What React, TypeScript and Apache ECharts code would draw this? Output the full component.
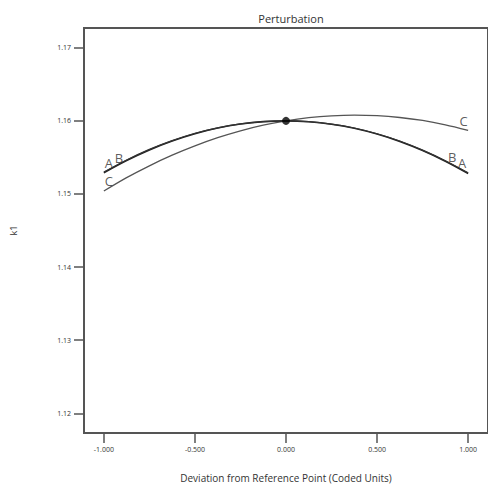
import React, { useEffect, useRef } from "react";
import * as echarts from "echarts";

const xValues = [
  -1, -0.875, -0.75, -0.625, -0.5, -0.375, -0.25, -0.125, 0,
  0.125, 0.25, 0.375, 0.5, 0.625, 0.75, 0.875, 1,
];
const seriesA = [
  1.1529, 1.15457, 1.15602, 1.15724, 1.15824, 1.15901, 1.15956, 1.15989, 1.16,
  1.15988, 1.15954, 1.15898, 1.15819, 1.15718, 1.15594, 1.15448, 1.1528,
];
const seriesB = [
  1.153, 1.15465, 1.1561, 1.1573, 1.1583, 1.15905, 1.15958, 1.1599, 1.16,
  1.1599, 1.15956, 1.15902, 1.15824, 1.15724, 1.156, 1.15455, 1.1529,
];
const seriesC = [
  1.1504, 1.15223, 1.15385, 1.1553, 1.15657, 1.15769, 1.15863, 1.1594, 1.16,
  1.16043, 1.16069, 1.16079, 1.16071, 1.16046, 1.16005, 1.15945, 1.1587,
];
const referencePoint = [0, 1.16];
const yTicks = [1.12, 1.13, 1.14, 1.15, 1.16, 1.17];
const xTicks = [-1, -0.5, 0, 0.5, 1];
const curveNames = ["A", "B", "C"];

const FONT = "'Open Sans', 'Noto Sans', sans-serif";

export default function App() {
  const ref = useRef<HTMLDivElement>(null);
  useEffect(() => {
    if (!ref.current) return;
    const chart = echarts.init(ref.current, undefined, { renderer: "svg" });
    const curves = [seriesA, seriesB, seriesC];
    const pair = (ys: number[]) => xValues.map((x, i) => [x, ys[i]]);
    const last = xValues.length - 1;
    const leftOffsets = [[5, -9.5], [15, -14], [5, -10]];
    const rightOffsets = [[-6, -10.5], [-16, -15.5], [-4.5, -9]];
    const labelItems: any[] = [];
    curves.forEach((ys, k) => {
      labelItems.push({
        value: [xValues[0], ys[0]],
        label: { show: true, position: "inside", formatter: curveNames[k], offset: leftOffsets[k] },
      });
      labelItems.push({
        value: [xValues[last], ys[last]],
        label: { show: true, position: "inside", formatter: curveNames[k], offset: rightOffsets[k] },
      });
    });

    chart.setOption({
      animation: false,
      title: {
        text: "Perturbation",
        left: 286,
        top: 8,
        textAlign: "center",
        textStyle: { fontFamily: FONT, fontSize: 11, fontWeight: "normal", color: "#333" },
      },
      grid: {
        left: 84,
        top: 28,
        width: 407,
        height: 405,
        show: true,
        borderColor: "#555",
        borderWidth: 2,
        containLabel: false,
      },
      xAxis: {
        type: "value",
        min: -1.109,
        max: 1.109,
        name: "Deviation from Reference Point (Coded Units)",
        nameLocation: "middle",
        nameGap: 40,
        nameTextStyle: { fontFamily: FONT, fontSize: 10, color: "#333" },
        axisLine: { show: false, onZero: false },
        splitLine: { show: false },
        axisTick: {
          show: true,
          inside: false,
          length: 10,
          lineStyle: { color: "#555", width: 1.5 },
          customValues: xTicks,
        },
        axisLabel: {
          show: true,
          margin: 13,
          fontFamily: FONT,
          fontSize: 7,
          color: "#333",
          customValues: xTicks,
          formatter: (v: number) => v.toFixed(3),
        },
      },
      yAxis: {
        type: "value",
        min: 1.1173,
        max: 1.1727,
        name: "k1",
        nameLocation: "middle",
        nameGap: 66,
        nameTextStyle: { fontFamily: FONT, fontSize: 9, color: "#333" },
        axisLine: { show: false, onZero: false },
        splitLine: { show: false },
        axisTick: {
          show: true,
          inside: false,
          length: 10,
          lineStyle: { color: "#555", width: 1.5 },
          customValues: yTicks,
        },
        axisLabel: {
          show: true,
          margin: 13,
          fontFamily: FONT,
          fontSize: 7,
          color: "#333",
          customValues: yTicks,
          formatter: (v: number) => v.toFixed(2),
        },
      },
      series: [
        {
          type: "line",
          name: "A",
          data: pair(seriesA),
          smooth: 0.3,
          showSymbol: false,
          lineStyle: { color: "#222", width: 1.6 },
          z: 3,
        },
        {
          type: "line",
          name: "B",
          data: pair(seriesB),
          smooth: 0.3,
          showSymbol: false,
          lineStyle: { color: "#333", width: 1.2 },
          z: 3,
        },
        {
          type: "line",
          name: "C",
          data: pair(seriesC),
          smooth: 0.3,
          showSymbol: false,
          lineStyle: { color: "#555", width: 1.3 },
          z: 2,
        },
        {
          type: "scatter",
          data: labelItems,
          symbolSize: 0,
          label: { fontFamily: FONT, fontSize: 13, color: "#333" },
          z: 4,
        },
        {
          type: "scatter",
          data: [referencePoint],
          symbolSize: 8,
          itemStyle: { color: "#000" },
          z: 5,
        },
      ],
    });
    return () => chart.dispose();
  }, []);
  return <div ref={ref} style={{ width: 488, height: 488, position: "absolute", left: 0, top: 0 }} />;
}
